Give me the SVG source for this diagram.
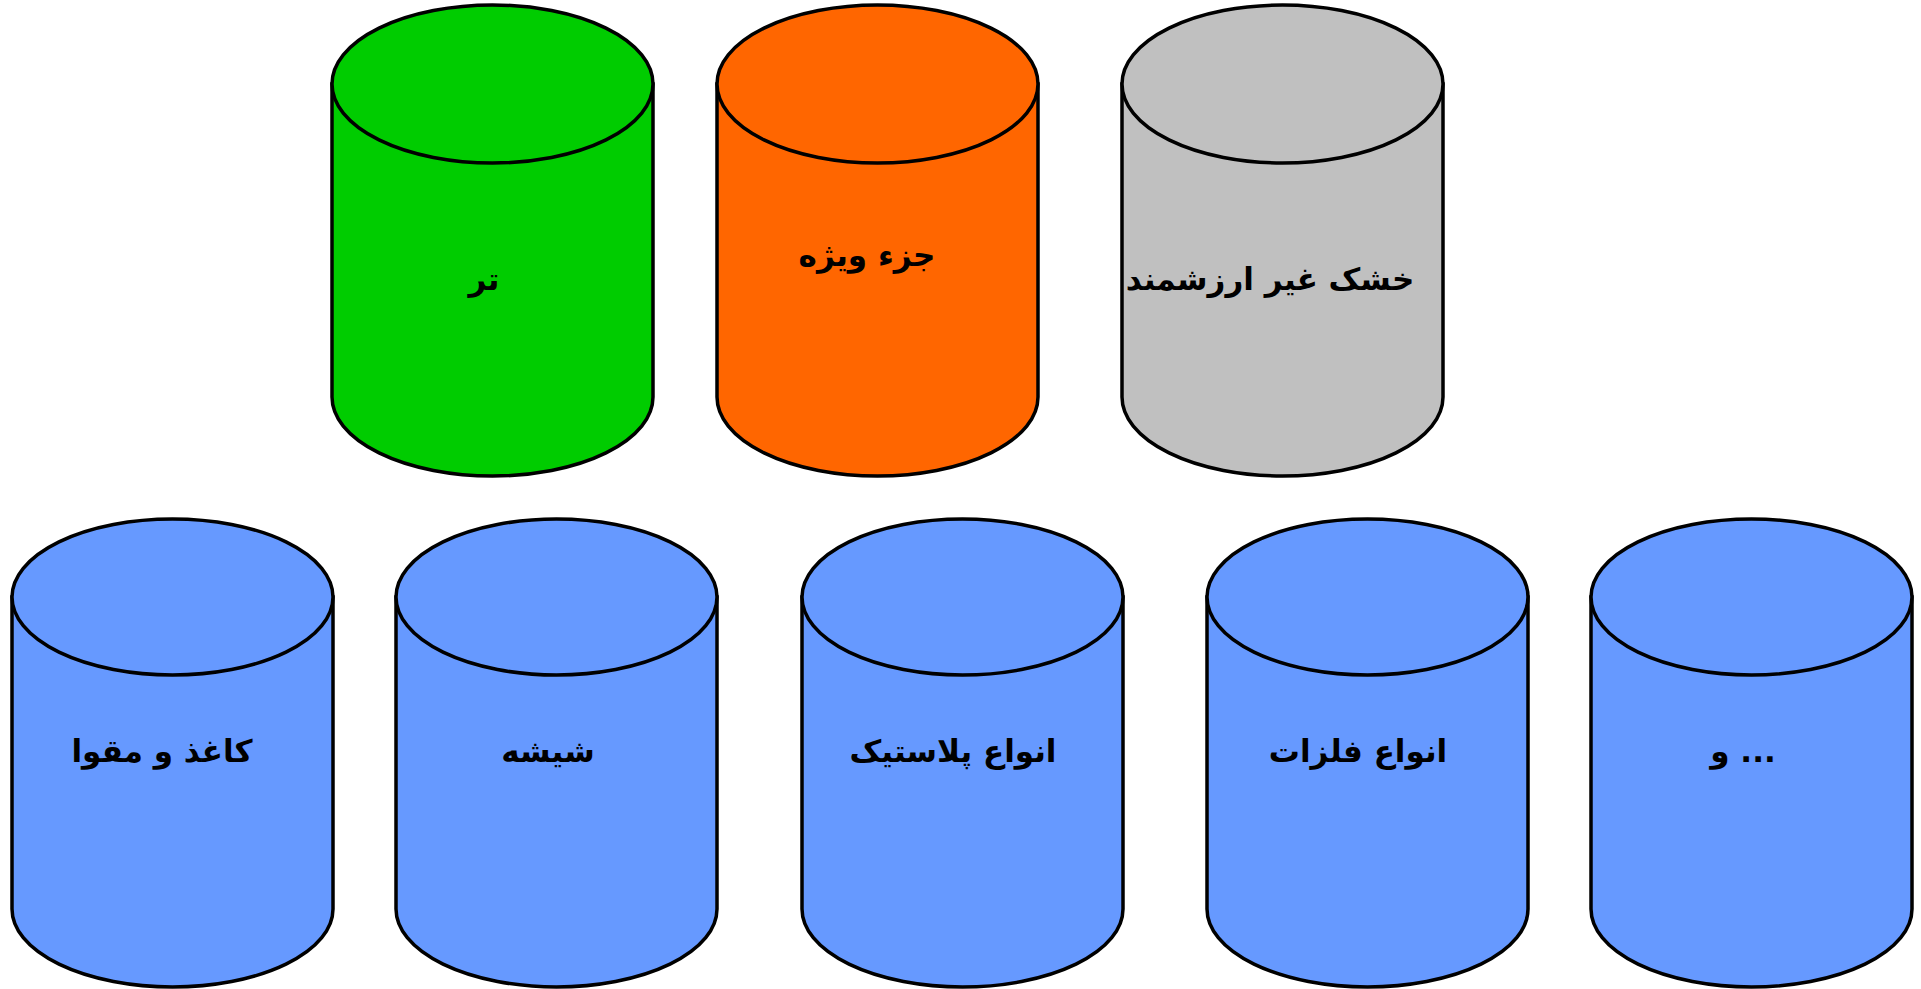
<svg xmlns="http://www.w3.org/2000/svg" width="1921" height="989" viewBox="0 0 1921 989">
<style>
.c{stroke:#000;stroke-width:3.5}
.g{fill:#00CC00}.o{fill:#FF6600}.s{fill:#C0C0C0}.b{fill:#6699FF}
text{font-family:"DejaVu Sans",sans-serif;font-weight:bold;font-size:31px;fill:#000;text-anchor:middle;dominant-baseline:central}
</style>
<rect width="1921" height="989" fill="#fff"/>
<g id="n-tar">
<path class="c g" d="M332,84 L332,397 A160.5,79 0 0 0 653,397 L653,84 Z"/>
<ellipse class="c g" cx="492.5" cy="84" rx="160.5" ry="79"/>
<text x="484" y="279">تر</text>
</g>
<g id="n-joz">
<path class="c o" d="M717,84 L717,397 A160.5,79 0 0 0 1038,397 L1038,84 Z"/>
<ellipse class="c o" cx="877.5" cy="84" rx="160.5" ry="79"/>
<text x="867" y="255">جزء ویژه</text>
</g>
<g id="n-khoshk">
<path class="c s" d="M1122,84 L1122,397 A160.5,79 0 0 0 1443,397 L1443,84 Z"/>
<ellipse class="c s" cx="1282.5" cy="84" rx="160.5" ry="79"/>
<text x="1270" y="279">خشک غیر ارزشمند</text>
</g>
<g id="n-kaghaz">
<path class="c b" d="M12,597 L12,909 A160.5,78 0 0 0 333,909 L333,597 Z"/>
<ellipse class="c b" cx="172.5" cy="597" rx="160.5" ry="78"/>
<text x="162" y="751">کاغذ و مقوا</text>
</g>
<g id="n-shishe">
<path class="c b" d="M396,597 L396,909 A160.5,78 0 0 0 717,909 L717,597 Z"/>
<ellipse class="c b" cx="556.5" cy="597" rx="160.5" ry="78"/>
<text x="548" y="751">شیشه</text>
</g>
<g id="n-plastic">
<path class="c b" d="M802,597 L802,909 A160.5,78 0 0 0 1123,909 L1123,597 Z"/>
<ellipse class="c b" cx="962.5" cy="597" rx="160.5" ry="78"/>
<text x="953" y="751">انواع پلاستیک</text>
</g>
<g id="n-felezat">
<path class="c b" d="M1207,597 L1207,909 A160.5,78 0 0 0 1528,909 L1528,597 Z"/>
<ellipse class="c b" cx="1367.5" cy="597" rx="160.5" ry="78"/>
<text x="1358" y="751">انواع فلزات</text>
</g>
<g id="n-etc">
<path class="c b" d="M1591,597 L1591,909 A160.5,78 0 0 0 1912,909 L1912,597 Z"/>
<ellipse class="c b" cx="1751.5" cy="597" rx="160.5" ry="78"/>
<text x="1743" y="751">و ...</text>
</g>
<g id="connectors"/>
</svg>
